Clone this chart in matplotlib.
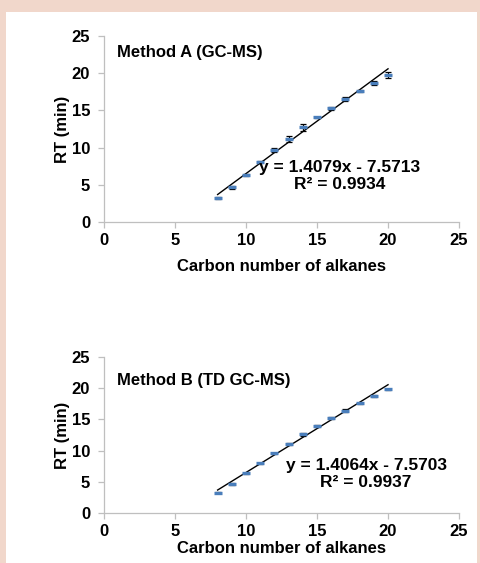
import numpy as np
import matplotlib.pyplot as plt
from matplotlib.patches import Rectangle

# Step 1: Data (retention time vs carbon number)
carbon = [8, 9, 10, 11, 12, 13, 14, 15, 16, 17, 18, 19, 20]

rt_a = [3.2, 4.65, 6.3, 8.1, 9.7, 11.15, 12.7, 14.05, 15.3, 16.5, 17.65, 18.7, 19.75]
err_a = [0.1, 0.2, 0.1, 0.15, 0.3, 0.35, 0.5, 0.1, 0.2, 0.25, 0.15, 0.3, 0.4]

rt_b = [3.25, 4.65, 6.35, 7.95, 9.55, 11.05, 12.6, 13.95, 15.2, 16.4, 17.6, 18.75, 19.8]
err_b = [0.1, 0.15, 0.1, 0.1, 0.1, 0.15, 0.2, 0.1, 0.15, 0.2, 0.1, 0.15, 0.15]

titles = ["Method A (GC-MS)", "Method B (TD GC-MS)"]
slopes = [1.4079, 1.4064]
intercepts = [-7.5713, -7.5703]
r2 = [0.9934, 0.9937]

# Step 2: Figure with pink frame and white panel
plt.rcParams['font.family'] = ['Liberation Sans', 'DejaVu Sans']
plt.rcParams['font.weight'] = 'bold'
fig = plt.figure(figsize=(4.8, 5.63), dpi=100)
fig.patch.set_facecolor('#f1d7cb')
fig.patches.append(Rectangle((6 / 480, 0), 471 / 480, 1 - 12 / 563,
                             transform=fig.transFigure, facecolor='white',
                             edgecolor='none', zorder=-10))

ax_top = fig.add_axes([0.2167, 0.6057, 0.7396, 0.3304])
ax_bot = fig.add_axes([0.2167, 0.0888, 0.7396, 0.2771])

# (axes, values, errors, equation position px, title position px, xlabel pad)
panels = [(ax_top, rt_a, err_a, (340, 176), (117, 52), 8),
          (ax_bot, rt_b, err_b, (366, 474), (117, 380), 1)]
fs = 12

# Step 3: Plotting
for i, (ax, rt, err, txt_pos, ttl_pos, xpad) in enumerate(panels):
    ax.set_facecolor('none')
    ax.errorbar(carbon, rt, yerr=err, fmt='none', ecolor='black',
                elinewidth=0.9, capsize=2, capthick=0.9, zorder=2)
    ax.plot(carbon, rt, linestyle='none', marker='_', markersize=5.5,
            markeredgewidth=2.4, color='#4a7ebb', zorder=3)
    xs = np.array([carbon[0], carbon[-1]])
    ax.plot(xs, slopes[i] * xs + intercepts[i], color='black', lw=1, zorder=2)

    ax.set_xlim(0, 25)
    ax.set_ylim(0, 25)
    ax.set_xticks([0, 5, 10, 15, 20, 25])
    ax.set_yticks([0, 5, 10, 15, 20, 25])
    for side in ['top', 'right']:
        ax.spines[side].set_visible(False)
    for side in ['left', 'bottom']:
        ax.spines[side].set_color('#bfbfbf')
        ax.spines[side].set_linewidth(0.9)
    ax.tick_params(direction='out', length=4, width=0.9, color='#bfbfbf',
                   labelsize=fs)
    ax.tick_params(axis='x', pad=4)
    ax.tick_params(axis='y', pad=6)
    for lab in ax.get_xticklabels() + ax.get_yticklabels():
        lab.set_fontweight('bold')

    ax.set_xlabel("Carbon number of alkanes", fontsize=fs, fontweight='bold', labelpad=xpad)
    ax.set_ylabel("RT (min)", fontsize=fs, fontweight='bold', labelpad=1)
    fig.text(ttl_pos[0] / 480, 1 - ttl_pos[1] / 563, titles[i], fontsize=fs,
             fontweight='bold', ha='left', va='center')

    sign = '-' if intercepts[i] < 0 else '+'
    eq = "y = %.4fx %s %.4f\nR² = %.4f" % (slopes[i], sign, abs(intercepts[i]), r2[i])
    fig.text(txt_pos[0] / 480, 1 - txt_pos[1] / 563, eq, fontsize=12.5,
             fontweight='bold', ha='center', va='center', multialignment='center',
             linespacing=1.2)

plt.savefig("out.png", dpi=100, facecolor=fig.get_facecolor())
